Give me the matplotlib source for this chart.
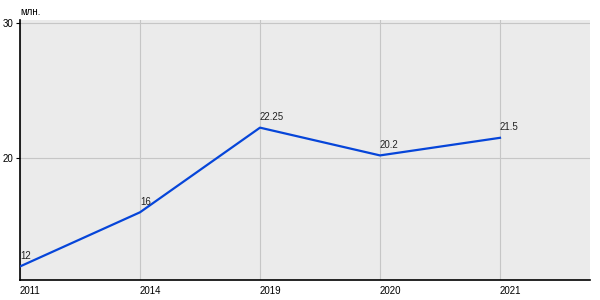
import matplotlib
matplotlib.use('Agg')
import matplotlib.pyplot as plt

# data
years = ['2011', '2014', '2019', '2020', '2021']
values = [12, 16, 22.25, 20.2, 21.5]
value_labels = ['12', '16', '22.25', '20.2', '21.5']
y_ticks = [20, 30]
unit_label = 'млн.'

plt.rcParams['font.family'] = ['Liberation Sans', 'DejaVu Sans']

fig = plt.figure(figsize=(6, 3), dpi=100)
ax = fig.add_axes([20 / 600, 20 / 300, 570 / 600, 260 / 300])
ax.set_facecolor('#ebebeb')

x = list(range(len(years)))
ax.plot(x, values, color='#0645d9', lw=1.6, zorder=3)

for xi, v, lab in zip(x, values, value_labels):
  ax.annotate(lab, (xi, v), xytext=(0, 4), textcoords='offset points',
              ha='left', va='bottom', fontsize=7, color='#222222')

ax.set_xlim(0, 4.75)
ax.set_ylim(11, 30.2)
ax.set_xticks(x)
ax.set_xticklabels(years, fontsize=7, ha='left')
ax.set_yticks(y_ticks)
ax.set_yticklabels([str(t) for t in y_ticks], fontsize=7)

ax.tick_params(axis='x', length=0, pad=4)
ax.tick_params(axis='y', length=3, width=0.8, pad=2)

ax.grid(True, color='#c6c6c6', lw=0.8)
ax.set_axisbelow(True)

for side in ('top', 'right'):
  ax.spines[side].set_visible(False)
for side in ('left', 'bottom'):
  ax.spines[side].set_color('black')
  ax.spines[side].set_linewidth(1.2)

fig.text(20 / 600, 1 - 12 / 300, unit_label, fontsize=7, ha='left', va='center')

fig.savefig('out.png', dpi=100)
